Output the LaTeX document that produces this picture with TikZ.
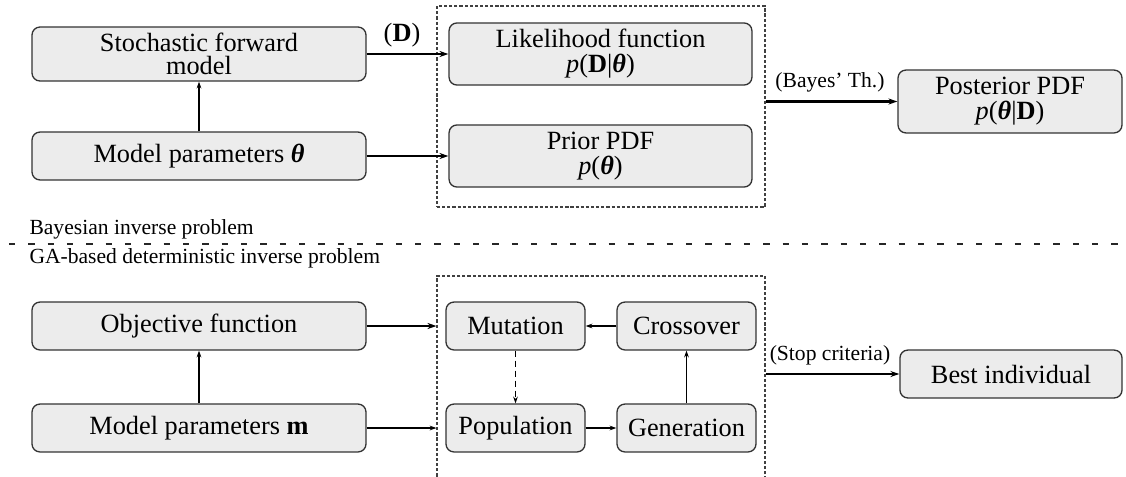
\documentclass[tikz,border=0pt]{standalone}
\usepackage{fontspec}
\setmainfont{Liberation Serif}
\usetikzlibrary{arrows.meta}

\newcommand{\btheta}{\textbf{\textit{θ}}}

\tikzset{
  box/.style={draw=black!80, line width=0.5pt, fill=gray!15, rounded corners=3pt,
    align=center, inner sep=1pt, font=\fontsize{10}{12}\selectfont},
  widebox/.style={box, minimum width=126.9pt, minimum height=18.2pt},
  pdfbox/.style={box, minimum width=115.1pt, minimum height=23.6pt},
  gabox/.style={box, minimum width=52.8pt, minimum height=18.2pt},
  frame/.style={draw=black!75, line width=0.45pt, dash pattern=on 1.2pt off 0.75pt,
    inner sep=0pt},
  bigarrow/.style={line width=0.8pt, -{Stealth[length=3.4pt, width=2.3pt]}},
  smallarrow/.style={line width=0.4pt, -{Stealth[length=2.6pt, width=1.8pt]}},
  edgelabel/.style={font=\fontsize{8.2}{10}\selectfont, inner sep=1pt},
  sectionlabel/.style={font=\fontsize{8.2}{10}\selectfont, anchor=west, inner sep=0pt},
}

\begin{document}
\begin{tikzpicture}[x=0.38pt, y=-0.38pt]
\useasboundingbox (0,0) rectangle (1126,476);

% Bayesian inverse problem
\node[frame, minimum width=124.6pt, minimum height=76.4pt] (bframe) at (601,106.5) {};
\node[widebox, minimum height=20.5pt] (stoch) at (199,54) {Stochastic forward\\[-3pt]model};
\node[widebox] (thetapar) at (199,156) {Model parameters \btheta};
\node[pdfbox] (lik) at (600.5,54) {Likelihood function\\[-2.5pt]\textit{p}(\textbf{D}|\btheta)};
\node[pdfbox] (prior) at (600.5,156) {Prior PDF\\[-2.5pt]\textit{p}(\btheta)};
\node[box, minimum width=85.1pt, minimum height=23.9pt] (post) at (1010,101.5)
  {Posterior PDF\\[-2.5pt]\textit{p}(\btheta|\textbf{D})};

\draw[smallarrow] (thetapar) -- (stoch);
\draw[bigarrow] (stoch) -- (lik);
\draw[bigarrow] (thetapar) -- (prior);
\draw[bigarrow] (bframe.east |- post) -- (post);
\node[font=\fontsize{10}{12}\selectfont, inner sep=0pt] (dlabel) at (402,35) {(\textbf{D})};
\node[edgelabel] (bayeslabel) at (830,82) {(Bayes’ Th.)};

% dividing line
\coordinate (divl) at (0,244);
\coordinate (divr) at (1126,244);
\draw[black!85, line width=0.45pt, dash pattern=on 2.4pt off 4.95pt, dash phase=3.95pt]
  (divl) -- (divr);
\node[sectionlabel] (toplabel) at (29,229) {Bayesian inverse problem};
\node[sectionlabel] (bottomlabel) at (29,258) {GA-based deterministic inverse problem};

% GA-based deterministic inverse problem
\node[frame, minimum width=124.6pt, minimum height=77.5pt] (gframe) at (601,378) {};
\node[widebox] (obj) at (199,326) {Objective function};
\node[widebox] (mpar) at (199,428) {Model parameters \textbf{m}};
\node[gabox] (mut) at (515.5,326) {Mutation};
\node[gabox] (cross) at (686.5,326) {Crossover};
\node[gabox] (pop) at (515.5,428) {Population};
\node[gabox] (gen) at (686.5,428) {Generation};
\node[box, minimum width=84.4pt, minimum height=18.2pt] (best) at (1011,374) {Best individual};

\draw[smallarrow] (mpar) -- (obj);
\draw[bigarrow] (obj) -- (obj -| gframe.west);
\draw[smallarrow] (mpar) -- (mpar -| gframe.west);
\draw[smallarrow] (cross) -- (mut);
\draw[smallarrow] (pop) -- (gen);
\draw[smallarrow] (gen) -- (cross);
\draw[smallarrow, dash pattern=on 2.5pt off 1.3pt] (mut) -- (pop);
\draw[bigarrow] (gframe.east |- best) -- (best);
\node[edgelabel] (stoplabel) at (830,355) {(Stop criteria)};
\end{tikzpicture}
\end{document}
